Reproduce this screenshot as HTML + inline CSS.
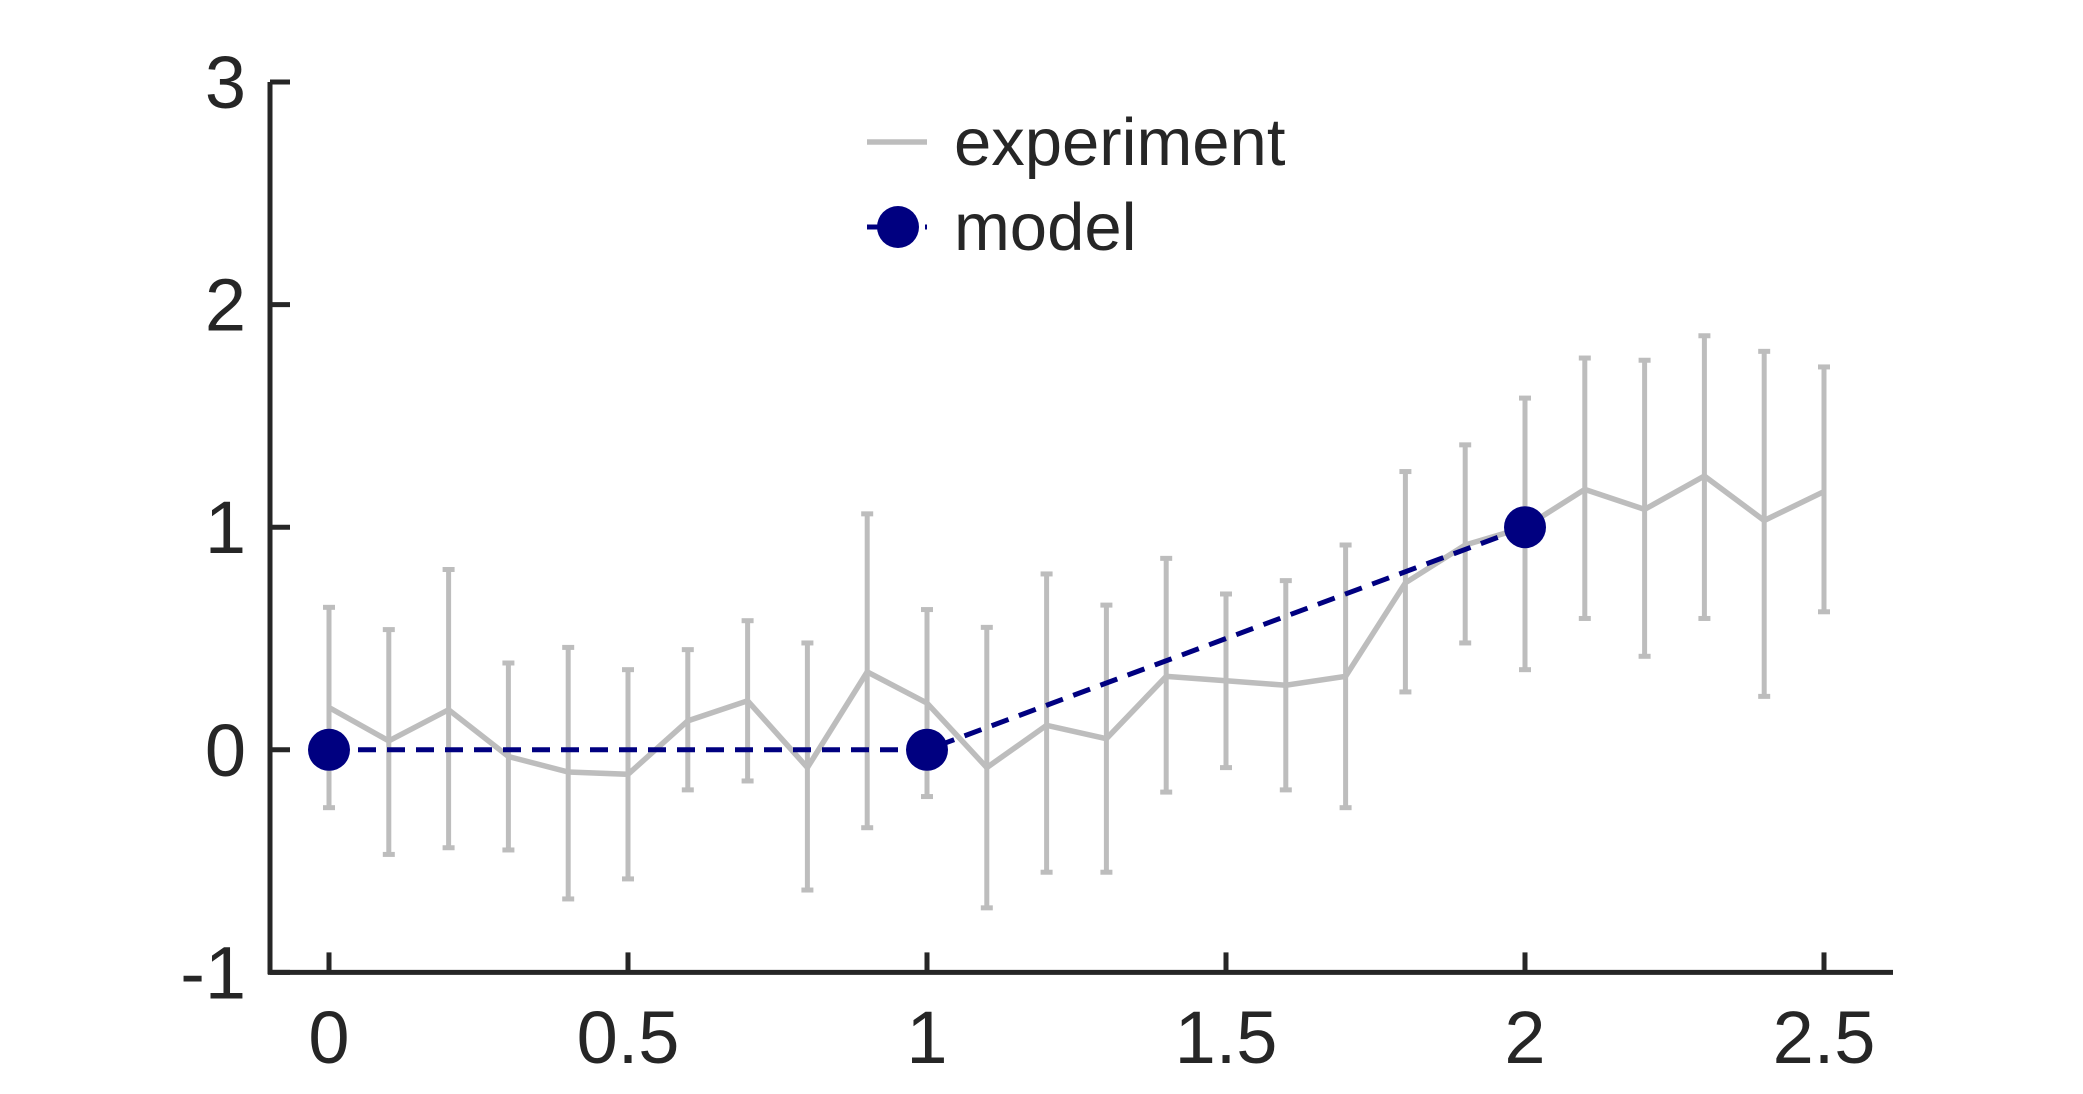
<!DOCTYPE html>
<html><head><meta charset="utf-8"><style>body{margin:0;background:#fff}svg{display:block}text{font-family:"Liberation Sans",sans-serif;fill:#262626}</style></head>
<body>
<svg id="c" width="2083" height="1094">
<g id="plot"></g>
</svg>
<script>
const xs=[0,0.1,0.2,0.3,0.4,0.5,0.6,0.7,0.8,0.9,1.0,1.1,1.2,1.3,1.4,1.5,1.6,1.7,1.8,1.9,2.0,2.1,2.2,2.3,2.4,2.5];
const expMean=[0.19,0.04,0.18,-0.03,-0.10,-0.11,0.13,0.22,-0.08,0.35,0.21,-0.08,0.11,0.05,0.33,0.31,0.29,0.33,0.75,0.92,1.0,1.17,1.08,1.23,1.03,1.16];
const expHi=[0.64,0.54,0.81,0.39,0.46,0.36,0.45,0.58,0.48,1.06,0.63,0.55,0.79,0.65,0.86,0.70,0.76,0.92,1.25,1.37,1.58,1.76,1.75,1.86,1.79,1.72];
const expLo=[-0.26,-0.47,-0.44,-0.45,-0.67,-0.58,-0.18,-0.14,-0.63,-0.35,-0.21,-0.71,-0.55,-0.55,-0.19,-0.08,-0.18,-0.26,0.26,0.48,0.36,0.59,0.42,0.59,0.24,0.62];
const modelX=[0,1,2];
const modelY=[0,0,1];
const xTicks=[0,0.5,1,1.5,2,2.5];
const xTickLabels=["0","0.5","1","1.5","2","2.5"];
const yTicks=[-1,0,1,2,3];
const yTickLabels=["-1","0","1","2","3"];

const X=v=>329+v*598;
const Y=v=>82+(3-v)*222.6;
const NS="http://www.w3.org/2000/svg";
const g=document.getElementById('plot');
function mk(t,a,p){const e=document.createElementNS(NS,t);for(const k in a)e.setAttribute(k,a[k]);(p||g).appendChild(e);return e;}

let e=mk('line',{x1:270,y1:Y(3),x2:270,y2:Y(-1)+2,stroke:'#262626','stroke-width':5});


e=mk('line',{x1:268,y1:Y(-1),x2:1893,y2:Y(-1),stroke:'#262626','stroke-width':5});


yTicks.forEach((t,i)=>{
 let l=mk('line',{x1:270,y1:Y(t),x2:290,y2:Y(t),stroke:'#262626','stroke-width':5});
 
 
 let tx=mk('text',{x:246,y:Y(t)+26,'text-anchor':'end','font-size':74});
 tx.textContent=yTickLabels[i];
 
 
});
xTicks.forEach((t,i)=>{
 let l=mk('line',{x1:X(t),y1:Y(-1),x2:X(t),y2:Y(-1)-20,stroke:'#262626','stroke-width':5});
 
 
 let tx=mk('text',{x:X(t),y:1063,'text-anchor':'middle','font-size':74});
 tx.textContent=xTickLabels[i];
 
 
});
xs.forEach((x,i)=>{
 const eg=mk('g',{stroke:'#bdbdbd','stroke-width':5});
 
 
 mk('line',{x1:X(x),y1:Y(expHi[i]),x2:X(x),y2:Y(expLo[i])},eg);
 mk('line',{x1:X(x)-6,y1:Y(expHi[i]),x2:X(x)+6,y2:Y(expHi[i])},eg);
 mk('line',{x1:X(x)-6,y1:Y(expLo[i]),x2:X(x)+6,y2:Y(expLo[i])},eg);
});
e=mk('polyline',{points:xs.map((x,i)=>X(x)+','+Y(expMean[i])).join(' '),fill:'none',stroke:'#bdbdbd','stroke-width':5.5});


e=mk('polyline',{points:modelX.map((x,i)=>X(x)+','+Y(modelY[i])).join(' '),fill:'none',stroke:'#000080','stroke-width':5,'stroke-dasharray':'18 11'});


modelX.forEach((x,i)=>{
 let c=mk('circle',{cx:X(x),cy:Y(modelY[i]),r:21,fill:'#000080'});
 
 
});
const lg=mk('g',{});


mk('line',{x1:867,y1:142,x2:927,y2:142,stroke:'#bdbdbd','stroke-width':5.5},lg);
let t1=mk('text',{x:954,y:165,'font-size':67},lg);t1.textContent='experiment';


mk('line',{x1:867,y1:227,x2:927,y2:227,stroke:'#000080','stroke-width':5,'stroke-dasharray':'18 11'},lg);
mk('circle',{cx:898,cy:227,r:21,fill:'#000080'},lg);
let t2=mk('text',{x:954,y:250,'font-size':67},lg);t2.textContent='model';


</script>
</body></html>
